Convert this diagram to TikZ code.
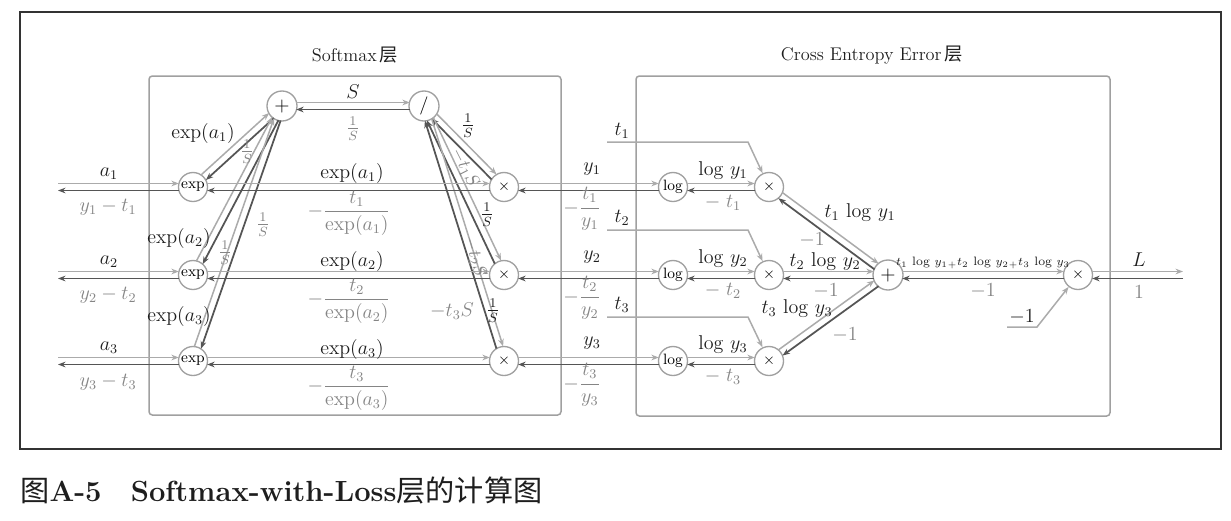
\documentclass[tikz,border=0pt]{standalone}
\usepackage{amsmath}
\usepackage{fontspec}
\newfontfamily\cjk{Noto Sans CJK SC}
\usetikzlibrary{calc,arrows.meta}
\definecolor{fw}{HTML}{ABABAB}
\definecolor{bw}{HTML}{555555}
\definecolor{bl}{HTML}{858585}
\definecolor{nb}{HTML}{A0A0A0}
\definecolor{fl}{HTML}{1E1E1E}
\tikzset{
  cnode/.style={circle, draw=nb, line width=0.8pt, fill=white, minimum size=17.4pt, inner sep=0pt, font=\fontsize{9}{10}\selectfont},
  bignode/.style={cnode, minimum size=18pt, font=\fontsize{13}{13}\selectfont},
  tip/.style={-{Stealth[length=4.5pt,width=3.4pt]}},
  fwd/.style={draw=fw, line width=0.9pt, tip},
  bwd/.style={draw=bw, line width=1.05pt, tip},
  sh/.style={shorten <=8.5pt, shorten >=8.5pt},
  shs/.style={shorten <=8.5pt},
  she/.style={shorten >=8.5pt},
  flab/.style={font=\fontsize{12}{14}\selectfont, text=fl, inner sep=0pt},
  blab/.style={font=\fontsize{12}{14}\selectfont, text=bl, inner sep=0pt},
  rlab/.style={font=\fontsize{11}{12}\selectfont, text=bl, inner sep=0pt},
  layerbox/.style={draw=nb, line width=0.9pt, rounded corners=2pt},
  title/.style={font=\fontsize{11}{13}\selectfont, text=fl}
}
\newcommand\biedge[2]{%
  \draw[fwd,sh] ($(#1)!2.1pt!90:(#2)$) -- ($(#2)!2.1pt!-90:(#1)$);
  \draw[bwd,sh] ($(#2)!2.1pt!90:(#1)$) -- ($(#1)!2.1pt!-90:(#2)$);}
\newcommand\biedgeIn[2]{%
  \draw[fwd,she] ($(#1)!2.1pt!90:(#2)$) -- ($(#2)!2.1pt!-90:(#1)$);
  \draw[bwd,shs] ($(#2)!2.1pt!90:(#1)$) -- ($(#1)!2.1pt!-90:(#2)$);}
\newcommand\biedgeOut[2]{%
  \draw[fwd,shs] ($(#1)!2.1pt!90:(#2)$) -- ($(#2)!2.1pt!-90:(#1)$);
  \draw[bwd,she] ($(#2)!2.1pt!90:(#1)$) -- ($(#1)!2.1pt!-90:(#2)$);}
\begin{document}
\begin{tikzpicture}[x=0.6pt,y=-0.6pt]
\fill[white] (0,0) rectangle (1231,520);
\useasboundingbox (0,0) rectangle (1231,520);
% frames
\draw[line width=1.1pt, draw=black!80] (20,12) rectangle (1221,449);
\draw[layerbox] (149,76) rectangle (561,415);
\draw[layerbox] (636,76) rectangle (1110,416);
\node[title] (tsm) at (355,55) {Softmax\,{\cjk 层}};
\node[title] (tce) at (872,55) {Cross Entropy Error\,{\cjk 层}};
% nodes
\node[bignode] (p1) at (282,106) {$+$};
\node[bignode, font=\fontsize{11}{11}\selectfont] (dv) at (424,106) {$/$};
\node[cnode] (e1) at (193,187) {exp};
\node[cnode] (e2) at (193,275) {exp};
\node[cnode] (e3) at (193,361) {exp};
\node[cnode] (m1) at (504,187) {$\times$};
\node[cnode] (m2) at (504,275) {$\times$};
\node[cnode] (m3) at (504,361) {$\times$};
\node[cnode] (l1) at (673,187) {log};
\node[cnode] (l2) at (673,275) {log};
\node[cnode] (l3) at (673,361) {log};
\node[cnode] (c1) at (769,187) {$\times$};
\node[cnode] (c2) at (769,275) {$\times$};
\node[cnode] (c3) at (769,361) {$\times$};
\node[bignode] (p2) at (888,275) {$+$};
\node[cnode] (m4) at (1078,275) {$\times$};
% free ends
\coordinate (i1) at (58,187);
\coordinate (i2) at (58,275);
\coordinate (i3) at (58,361);
\coordinate (out) at (1183,275);
\coordinate (t1a) at (607,142); \coordinate (t1b) at (748,142);
\coordinate (t2a) at (607,230); \coordinate (t2b) at (748,230);
\coordinate (t3a) at (607,317); \coordinate (t3b) at (748,317);
\coordinate (n1a) at (1007,327); \coordinate (n1b) at (1037,327);
% connectors
\biedgeIn{i1}{e1}
\biedgeIn{i2}{e2}
\biedgeIn{i3}{e3}
\biedge{e1}{p1}
\biedge{e2}{p1}
\biedge{e3}{p1}
\biedge{p1}{dv}
\biedge{dv}{m1}
\biedge{dv}{m2}
\biedge{dv}{m3}
\biedge{e1}{m1}
\biedge{e2}{m2}
\biedge{e3}{m3}
\biedge{m1}{l1}
\biedge{m2}{l2}
\biedge{m3}{l3}
\biedge{l1}{c1}
\biedge{l2}{c2}
\biedge{l3}{c3}
\biedge{c1}{p2}
\biedge{c2}{p2}
\biedge{c3}{p2}
\biedge{p2}{m4}
\biedgeOut{m4}{out}
\draw[fwd] (t1a) -- (t1b) -- (c1);
\draw[fwd] (t2a) -- (t2b) -- (c2);
\draw[fwd] (t3a) -- (t3b) -- (c3);
\draw[fwd] (n1a) -- (n1b) -- (m4);
% input labels
\node[flab] (la1) at (109,174) {$a_1$};
\node[blab] (lb1) at (108,207) {$y_1-t_1$};
\node[flab] (la2) at (109,262) {$a_2$};
\node[blab] (lb2) at (108,295) {$y_2-t_2$};
\node[flab] (la3) at (109,348) {$a_3$};
\node[blab] (lb3) at (108,382) {$y_3-t_3$};
% softmax labels
\node[flab] (lS) at (353,92) {$S$};
\node[blab] (lSi) at (353,129) {$\frac{1}{S}$};
\node[flab] (le1) at (203,133) {$\exp(a_1)$};
\node[blab] (lr1) at (247,152) {$\frac{1}{S}$};
\node[flab] (le2) at (179,238) {$\exp(a_2)$};
\node[blab] (lr2) at (225,253) {$\frac{1}{S}$};
\node[flab] (le3) at (179,316) {$\exp(a_3)$};
\node[blab] (lr3) at (263,225) {$\frac{1}{S}$};
\node[flab] (ld1) at (468,126) {$\frac{1}{S}$};
\node[rlab, rotate=-63] (lt1) at (465,168) {$-t_1S$};
\node[flab] (ld2) at (487,215) {$\frac{1}{S}$};
\node[rlab, rotate=-74] (lt2) at (475,257) {$-t_2S$};
\node[blab] (lt3) at (452,311) {$-t_3S$};
\node[flab] (ld3) at (493,311) {$\frac{1}{S}$};
\node[flab] (lx1) at (352,173) {$\exp(a_1)$};
\node[blab] (ly1) at (349,213) {$-\dfrac{t_1}{\exp(a_1)}$};
\node[flab] (lx2) at (352,261) {$\exp(a_2)$};
\node[blab] (ly2) at (349,301) {$-\dfrac{t_2}{\exp(a_2)}$};
\node[flab] (lx3) at (352,349) {$\exp(a_3)$};
\node[blab] (ly3) at (349,388) {$-\dfrac{t_3}{\exp(a_3)}$};
% middle labels
\node[flab] (ly1f) at (592,169) {$y_1$};
\node[blab] (ly1b) at (582,209) {$-\dfrac{t_1}{y_1}$};
\node[flab] (ly2f) at (592,257) {$y_2$};
\node[blab] (ly2b) at (582,298) {$-\dfrac{t_2}{y_2}$};
\node[flab] (ly3f) at (592,343) {$y_3$};
\node[blab] (ly3b) at (582,385) {$-\dfrac{t_3}{y_3}$};
\node[flab] (lt1i) at (622,131) {$t_1$};
\node[flab] (lt2i) at (622,218) {$t_2$};
\node[flab] (lt3i) at (622,305) {$t_3$};
\node[flab] (lg1) at (723,171) {$\log\, y_1$};
\node[blab] (lg1b) at (723,203) {$-\;t_1$};
\node[flab] (lg2) at (723,259) {$\log\, y_2$};
\node[blab] (lg2b) at (723,291) {$-\;t_2$};
\node[flab] (lg3) at (723,345) {$\log\, y_3$};
\node[blab] (lg3b) at (723,377) {$-\;t_3$};
% cross entropy labels
\node[flab] (lc1) at (860,213) {$t_1\,\log\, y_1$};
\node[blab] (lc1b) at (812,240) {$-1$};
\node[flab] (lc2) at (825,262) {$t_2\,\log\, y_2$};
\node[blab] (lc2b) at (826,291) {$-1$};
\node[flab] (lc3) at (797,309) {$t_3\,\log\, y_3$};
\node[blab] (lc3b) at (845,335) {$-1$};
\node[flab, font=\fontsize{7.3}{9}\selectfont] (lsum) at (983,263) {$t_1\,\log\, y_1{}_{+}t_2\,\log\, y_2{}_{+}t_3\,\log\, y_3$};
\node[blab] (lsumb) at (983,291) {$-1$};
\node[flab] (lm1) at (1022,317) {$-1$};
\node[flab] (lL) at (1139,260) {$L$};
\node[blab] (lone) at (1139,292) {$1$};
% caption
\node[anchor=west, inner sep=0pt, font=\fontsize{17.5}{20}\selectfont, text=fl] (cap) at (20,490) {{\cjk 图}\textbf{A-5}\quad\textbf{Softmax-with-Loss}{\cjk 层的计算图}};
\end{tikzpicture}
\end{document}
